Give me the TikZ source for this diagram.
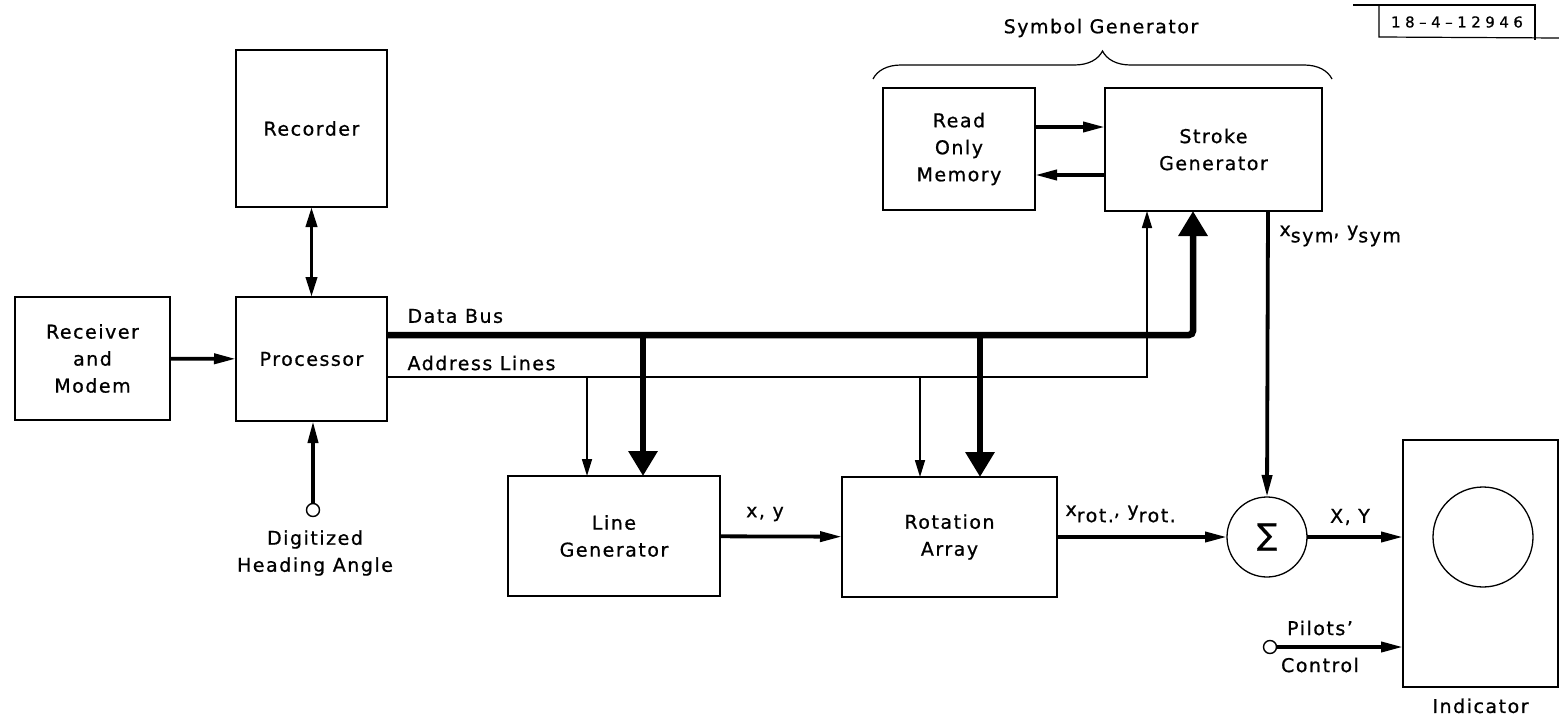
\documentclass[tikz,border=0pt]{standalone}
\usepackage{fontspec}
\setmainfont{DejaVu Sans}[LetterSpace=8, FakeBold=0.8]
\usetikzlibrary{arrows.meta, decorations.pathreplacing, positioning}
\newcommand{\lowtext}[1]{\raisebox{-0.6ex}{#1}}

\begin{document}
\begin{tikzpicture}[x=1pt, y=-1pt, font=\fontsize{19}{27}\selectfont]

\tikzstyle{blk} = [draw, line width=1.3pt, inner sep=0pt, outer sep=0pt, align=center]
\tikzstyle{mid} = [line width=3.8pt, -{Triangle[length=22pt,width=10pt]}]
\tikzstyle{dbl} = [line width=3.8pt, {Triangle[length=20pt,width=11pt]}-{Triangle[length=20pt,width=11pt]}]
\tikzstyle{addr} = [line width=1.6pt, -{Triangle[length=17pt,width=10pt]}]
\tikzstyle{bus} = [line width=6.5pt, -{Triangle[length=25pt,width=28pt]}]
\tikzstyle{port} = [draw, circle, line width=1.4pt, minimum size=13pt, inner sep=0pt, fill=white]

\useasboundingbox (0,0) rectangle (1559,725);

% blocks
\node[blk, minimum width=151pt, minimum height=157pt] (recorder) at (311.5,128.5) {Recorder};
\node[blk, minimum width=155pt, minimum height=123pt] (receiver) at (92.5,358.5) {Receiver\\and\\Modem};
\node[blk, minimum width=151pt, minimum height=124pt] (processor) at (311.5,359) {Processor};
\node[blk, minimum width=152pt, minimum height=122pt] (rom) at (959,149) {Read\\Only\\Memory};
\node[blk, minimum width=217pt, minimum height=123pt] (stroke) at (1213.5,149.5) {Stroke\\Generator};
\node[blk, minimum width=212pt, minimum height=120pt] (linegen) at (614,536) {Line\\Generator};
\node[blk, minimum width=215pt, minimum height=120pt] (rotation) at (949.5,537) {Rotation\\Array};
\node[blk, circle, minimum size=80pt] (sum) at (1267,537) {\fontsize{30}{30}\selectfont ∑};
\node[blk, minimum width=155pt, minimum height=247pt] (indicator) at (1480.5,563.5) {};
\node[blk, circle, minimum size=100pt] (screen) at (1483,537) {};
\node[below=8pt of indicator] (indlabel) {Indicator};

% inputs
\node[port] (dha) at (313,510) {};
\node[align=center] (dhalabel) at (315,553) {Digitized\\Heading Angle};
\node[port] (pc) at (1270,647) {};
\node (pclabel) at (1320,628) {Pilots'};
\node (pclabel2) at (1320,665) {Control};

% symbol generator brace
\draw[line width=1.2pt, decorate, decoration={brace, amplitude=28pt}] (873,79) -- (1332,79);
\node (symgen) at (1101,28) {Symbol Generator};

% drawing number
\draw[line width=1.2pt] (1353,5) -- (1535,5) -- (1535,40);
\draw[line width=1.2pt] (1379,6) -- (1379,37) -- (1559,38);
\node (drawno) at (1457,22) {\fontsize{15}{15}\selectfont\addfontfeature{LetterSpace=30}18–4–12946};

% bus coordinates
\coordinate (dbus) at (0,335);
\coordinate (abus) at (0,377);
\coordinate (xd) at (1193,0);
\coordinate (xa) at (1147,0);
\coordinate (xs) at (1268,0);
\coordinate (d1) at (643,335);
\coordinate (d2) at (980,335);
\coordinate (a1) at (587,377);
\coordinate (a2) at (920,377);

\node[anchor=west] (dbuslabel) at (404,316) {Data Bus};
\node[anchor=west] (abuslabel) at (404,363) {Address Lines};

% connectors
\draw[mid] (receiver) -- (processor);
\draw[dbl] (processor) -- (recorder);
\draw[mid] (dha) -- (dha |- processor.south);

\draw[bus, rounded corners=4pt] (processor.east |- dbus) -| (xd |- stroke.south);
\draw[bus] (d1) -- (d1 |- linegen.north);
\draw[bus] (d2) -- (d2 |- rotation.north);

\draw[addr] (processor.east |- abus) -| (xa |- stroke.south);
\draw[addr] (a1) -- (a1 |- linegen.north);
\draw[addr] (a2) -- (a2 |- rotation.north);

\draw[mid] ([yshift=22pt]rom.east) -- ([yshift=22pt]rom.east -| stroke.west);
\draw[mid] ([yshift=-26pt]rom.east -| stroke.west) -- ([yshift=-26pt]rom.east);

\draw[mid] (xs |- stroke.south) -- (sum.north);
\node[anchor=west] (symlabel) at (1276,236) {x\lowtext{sym}, y\lowtext{sym}};

\draw[mid] (linegen) -- (rotation);
\node (xylabel) at (765,514) {x, y};
\draw[mid] (rotation) -- (sum);
\node[anchor=west] (rotlabel) at (1062,514) {x\lowtext{rot.}, y\lowtext{rot.}};
\draw[mid] (sum) -- (sum -| indicator.west);
\node (XYlabel) at (1350,517) {X, Y};
\draw[mid] (pc) -- (pc -| indicator.west);

\end{tikzpicture}
\end{document}
